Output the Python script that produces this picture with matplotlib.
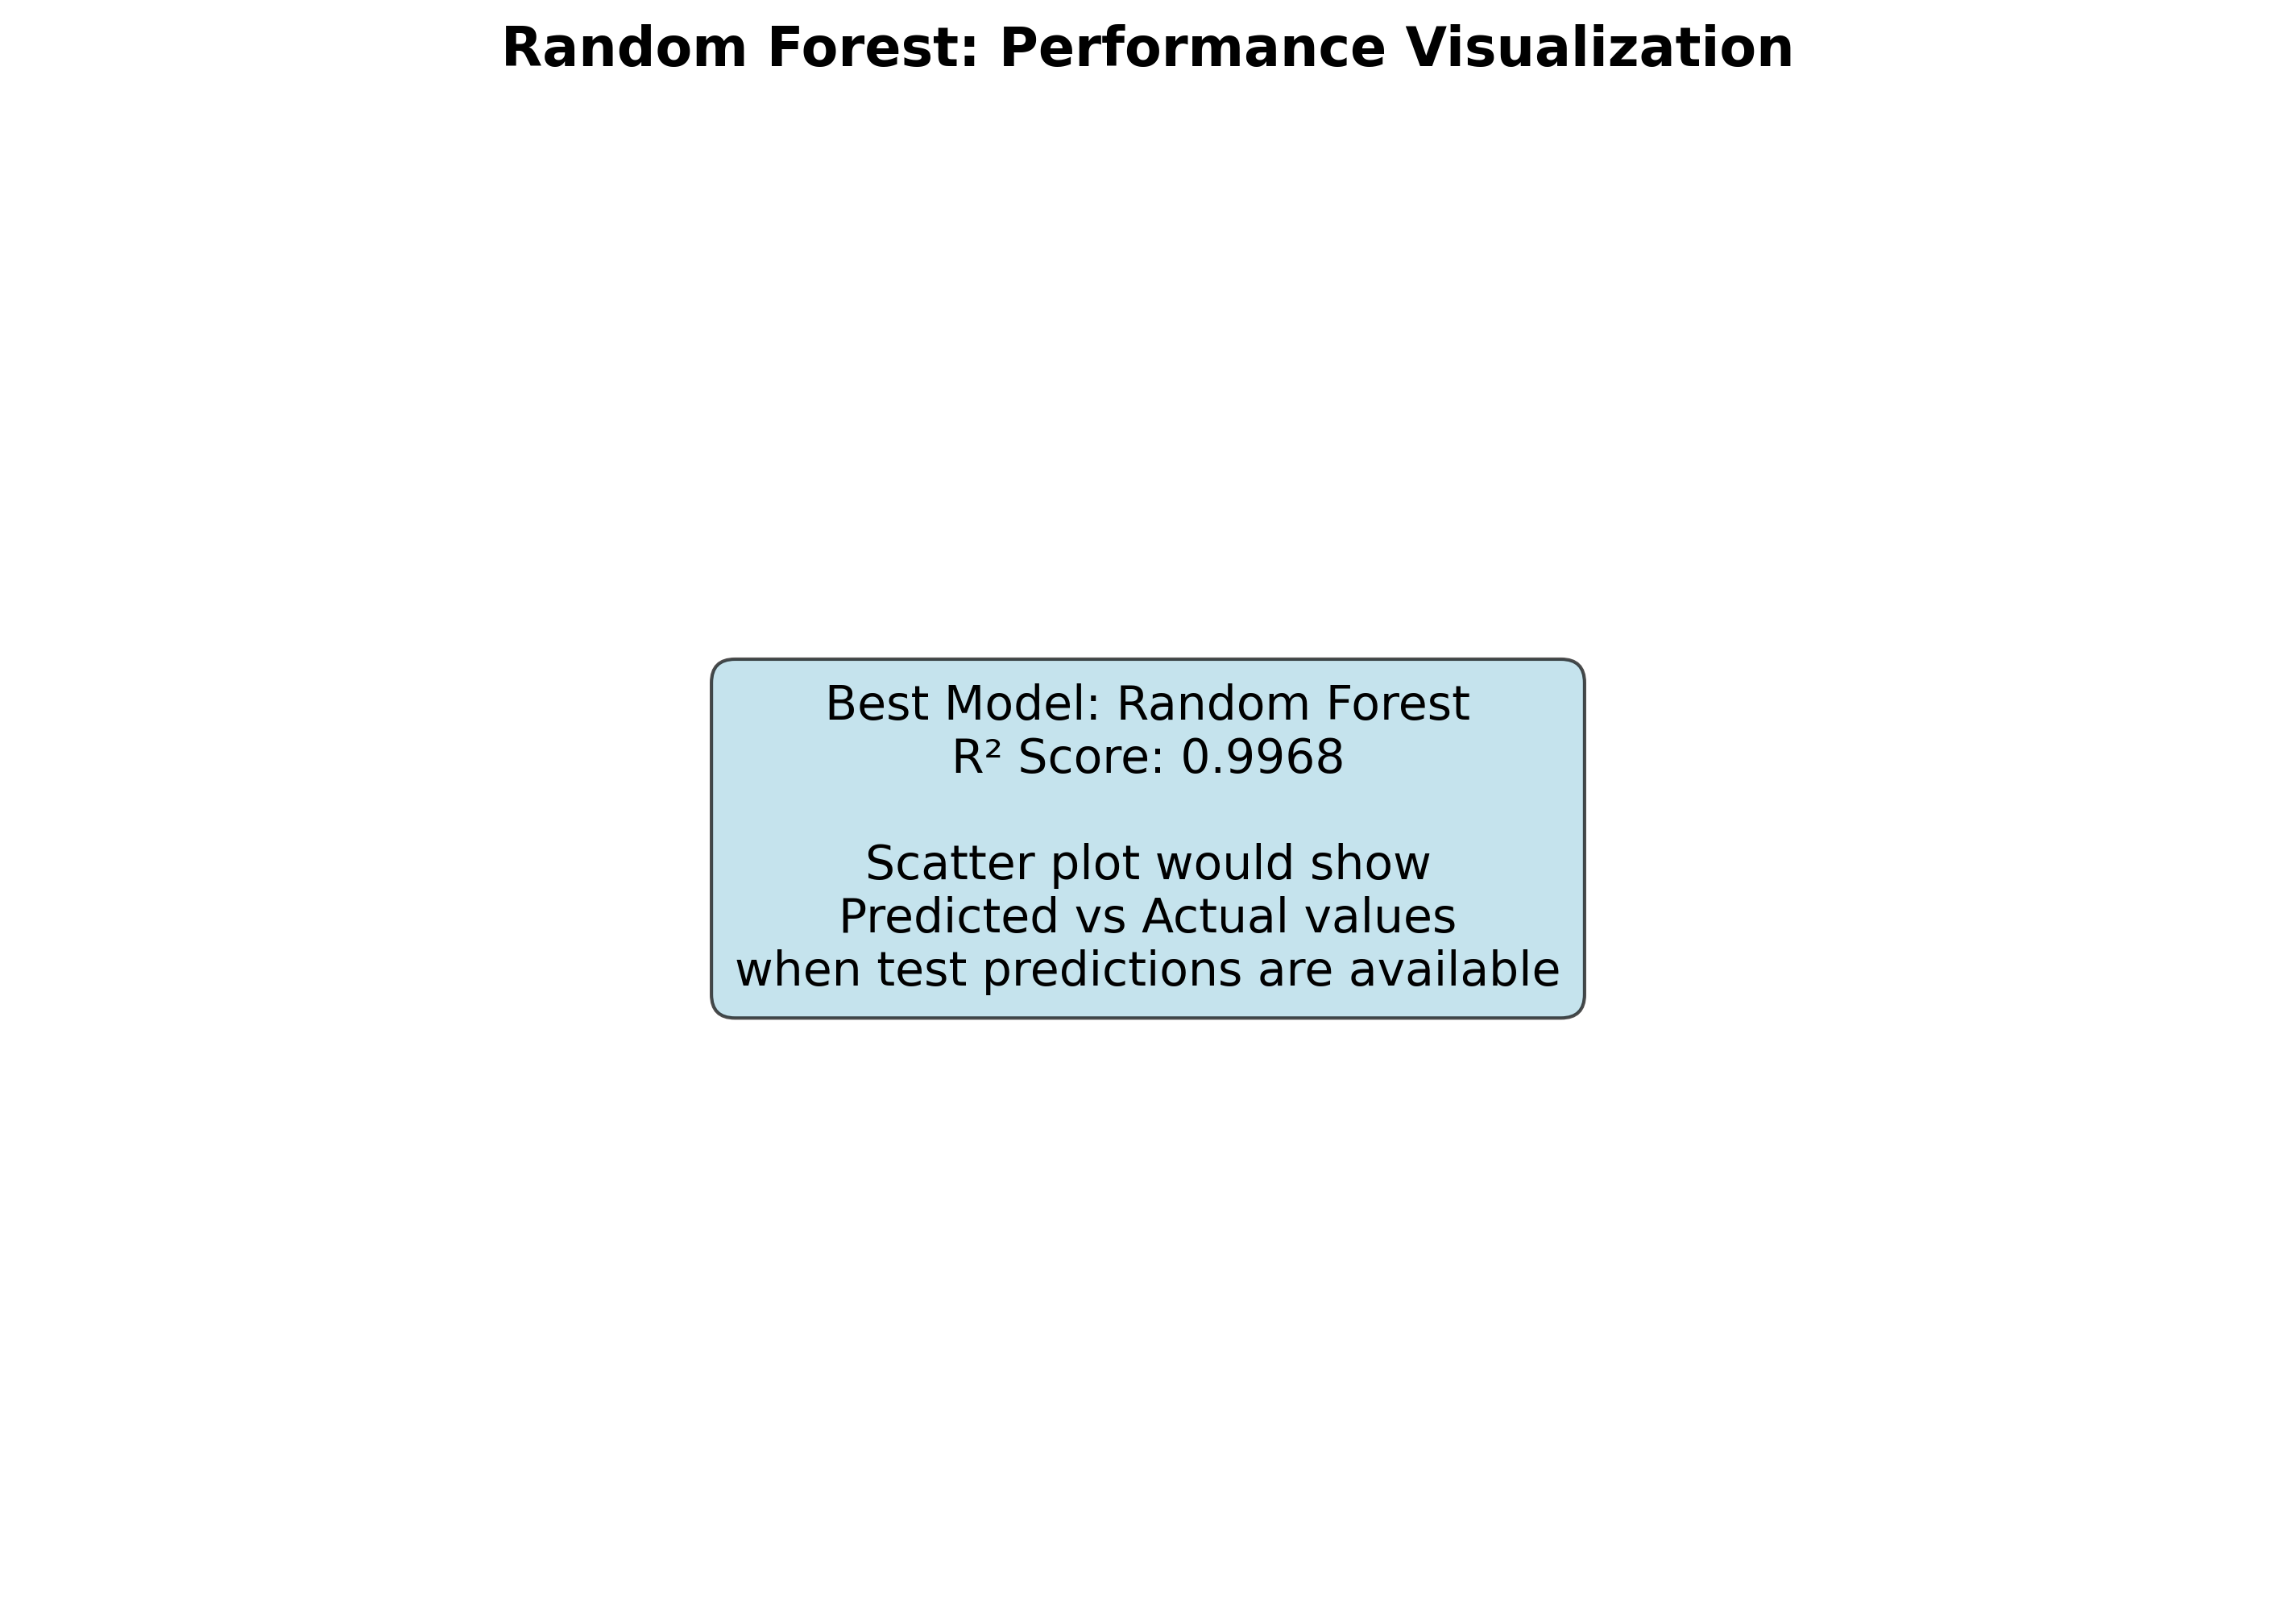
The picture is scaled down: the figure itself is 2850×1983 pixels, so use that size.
import matplotlib
matplotlib.use('Agg')
import matplotlib.pyplot as plt

model_name = 'Random Forest'
r2_score = 0.9968
note_lines = ['Scatter plot would show',
              'Predicted vs Actual values',
              'when test predictions are available']

fig, ax = plt.subplots(figsize=(9.5, 6.613), dpi=300)
fig.subplots_adjust(left=0.02, right=0.98, top=0.93, bottom=0.02)

msg = f'Best Model: {model_name}\nR² Score: {r2_score:.4f}\n\n' + '\n'.join(note_lines)
ax.text(0.5, 0.5, msg, ha='center', va='center', fontsize=14,
        transform=ax.transAxes,
        bbox=dict(boxstyle='round,pad=0.5', facecolor='lightblue', alpha=0.7,
                  edgecolor='black'))
ax.axis('off')
fig.suptitle(f'{model_name}: Performance Visualization', fontsize=16,
             fontweight='bold', y=0.985)

fig.savefig('out.png', dpi=300)
